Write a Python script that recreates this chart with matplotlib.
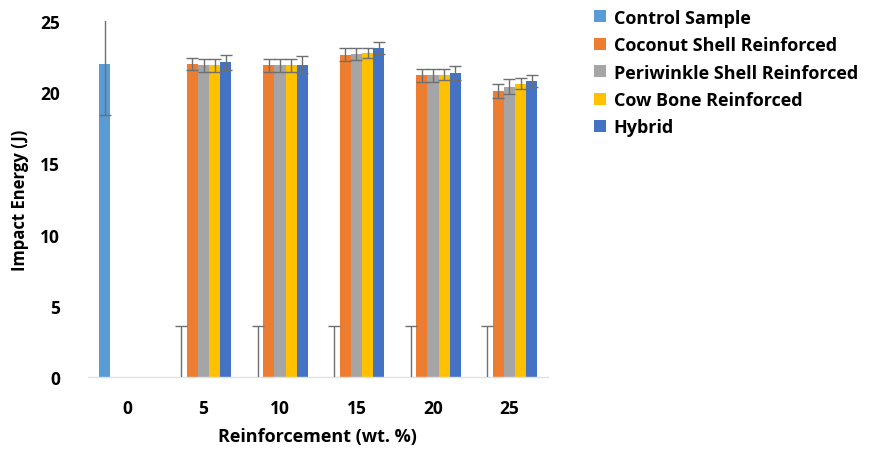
import numpy as np
import matplotlib
matplotlib.use('Agg')
import matplotlib.pyplot as plt

plt.rcParams['font.family'] = ['Open Sans', 'DejaVu Sans']
plt.rcParams['font.weight'] = 'bold'

categories = ['0', '5', '10', '15', '20', '25']
series = ['Control Sample', 'Coconut Shell Reinforced', 'Periwinkle Shell Reinforced',
          'Cow Bone Reinforced', 'Hybrid']
colors = ['#5B9BD5', '#ED7D31', '#A5A5A5', '#FFC000', '#4472C4']

control = [22.0, 0, 0, 0, 0, 0]
coconut = [0, 22.0, 21.9, 22.65, 21.2, 20.1]
periwinkle = [0, 21.9, 21.9, 22.7, 21.2, 20.4]
cow_bone = [0, 21.9, 21.9, 22.75, 21.25, 20.6]
hybrid = [0, 22.1, 21.95, 23.1, 21.35, 20.8]

control_err = [3.6, 3.6, 3.6, 3.6, 3.6, 3.6]
coconut_err = [0, 0.4, 0.45, 0.45, 0.45, 0.5]
periwinkle_err = [0, 0.45, 0.45, 0.4, 0.45, 0.55]
cow_bone_err = [0, 0.45, 0.45, 0.35, 0.4, 0.4]
hybrid_err = [0, 0.5, 0.6, 0.4, 0.5, 0.45]

values = [control, coconut, periwinkle, cow_bone, hybrid]
errors = [control_err, coconut_err, periwinkle_err, cow_bone_err, hybrid_err]

fig = plt.figure(figsize=(8.72, 4.52), dpi=100)
ax = fig.add_axes([0.101, 0.164, 0.527, 0.787])

x = np.arange(len(categories))
width = 0.146
for i, (name, vals, errs, c) in enumerate(zip(series, values, errors, colors)):
    pos = x + (i - 2) * width
    ax.bar(pos, vals, width, color=c, label=name, zorder=2)
    # error bars only where the sample has a spread
    e = np.array(errs)
    keep = e > 0
    ax.errorbar(pos[keep], np.array(vals)[keep], yerr=e[keep], fmt='none',
                ecolor='#6f6f6f', elinewidth=1.0, capsize=4, capthick=1.0, zorder=3)

ax.set_xlim(-0.51, 5.5)
ax.set_ylim(0, 25)
ax.set_yticks([0, 5, 10, 15, 20, 25])
ax.set_xticks(x)
ax.set_xticklabels(categories)
ax.tick_params(axis='both', length=0, labelsize=12.5)
ax.tick_params(axis='y', pad=20)
ax.tick_params(axis='x', pad=16)

for s in ['top', 'right', 'left']:
    ax.spines[s].set_visible(False)
ax.spines['bottom'].set_color('#d9e3ee')
ax.spines['bottom'].set_linewidth(1.0)

ax.set_xlabel('Reinforcement (wt. %)', fontsize=13, fontweight='bold', labelpad=7)
ax.set_ylabel('Impact Energy (J)', fontsize=12, fontweight='bold', labelpad=8)

leg = ax.legend(loc='upper left', bbox_to_anchor=(1.085, 1.055), frameon=False,
                fontsize=13, handlelength=0.65, handleheight=0.65, handletextpad=0.45,
                labelspacing=0.52, borderaxespad=0)

fig.savefig('out.png', dpi=100)
